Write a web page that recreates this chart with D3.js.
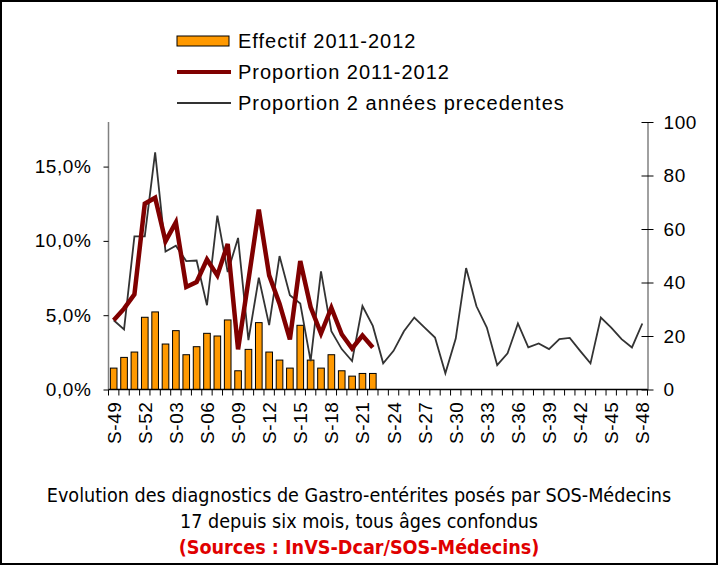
<!DOCTYPE html>
<html>
<head>
<meta charset="utf-8">
<script src="https://cdn.jsdelivr.net/npm/d3@7"></script>
<style>
  body { margin: 0; background: #fff; }
  svg { display: block; font-family: "Liberation Sans", Arial, sans-serif; }
  .tick-label { font-size: 19px; letter-spacing: 0.6px; fill: #000; }
  .legend text { font-size: 20px; letter-spacing: 1px; }
  .title { font-family: "Liberation Sans Narrow", "DejaVu Sans Condensed", sans-serif; font-stretch: condensed; font-size: 19.6px; text-anchor: middle; }
</style>
</head>
<body>
<svg id="chart"></svg>
<script>
'use strict';

// week labels, S-49 of 2011 to S-48 of 2012
const weeks = ['S-49', 'S-50', 'S-51', 'S-52']
  .concat(d3.range(1, 49).map(w => 'S-' + String(w).padStart(2, '0')));

// number of diagnoses 2011-2012 (right axis)
const effectif = [8, 12, 14, 27, 29, 17, 22, 13, 16, 21, 20, 26, 7,
  15, 25, 14, 11, 8, 24, 11, 8, 13, 7, 5, 6, 6];

// proportion 2011-2012 (left axis)
const proportion = [0.0466, 0.0544, 0.064, 0.125, 0.129, 0.0998, 0.1125,
  0.069, 0.0723, 0.0875, 0.0768, 0.098, 0.027, 0.0734, 0.121, 0.0768,
  0.0578, 0.0337, 0.0864, 0.0555, 0.0377, 0.055, 0.0372, 0.0276, 0.0363, 0.0283];

// proportion of the 2 previous years (left axis)
const proportionPrev = [0.0466, 0.0404, 0.103, 0.103, 0.1595, 0.0929, 0.0967,
  0.0864, 0.0868, 0.0567, 0.117, 0.079, 0.102, 0.0332, 0.0752, 0.0433,
  0.0898, 0.0634, 0.0578, 0.0191, 0.0795, 0.0392, 0.0272, 0.0191, 0.0562,
  0.0428, 0.0176, 0.026, 0.0392, 0.0484, 0.0417, 0.035, 0.0109, 0.0343,
  0.0817, 0.056, 0.0417, 0.0164, 0.0243, 0.0444, 0.0283, 0.031, 0.0272,
  0.0339, 0.0347, 0.026, 0.0176, 0.0484, 0.0417, 0.0339, 0.0283, 0.0444];

const leftTicks = [0, 0.05, 0.10, 0.15];
const rightTicks = [0, 20, 40, 60, 80, 100];

const legendItems = ['Effectif 2011-2012', 'Proportion 2011-2012', 'Proportion 2 années precedentes'];

const titleLines = [
  'Evolution des diagnostics de Gastro-entérites posés par SOS-Médecins',
  '17 depuis six mois, tous âges confondus',
  '(Sources : InVS-Dcar/SOS-Médecins)'
];

const width = 718;
const height = 565;
const plot = { left: 108.5, right: 647.5, top: 122, bottom: 389.5 };

const svg = d3.select('#chart')
  .attr('width', width)
  .attr('height', height);

svg.append('rect')
  .attr('x', 1).attr('y', 1)
  .attr('width', width - 2).attr('height', height - 2)
  .attr('fill', '#fff')
  .attr('stroke', '#000')
  .attr('stroke-width', 2);

const x = d3.scaleBand()
  .domain(weeks)
  .range([plot.left, plot.right])
  .padding(0);
const bw = x.bandwidth();
const cx = d => x(d) + bw / 2;

const yLeft = d3.scaleLinear().domain([0, 0.18]).range([plot.bottom, plot.top]);
const yRight = d3.scaleLinear().domain([0, 100]).range([plot.bottom, plot.top]);

// bars
svg.append('g')
  .selectAll('rect')
  .data(effectif)
  .join('rect')
  .attr('x', (d, i) => x(weeks[i]) + bw * 0.18)
  .attr('width', bw * 0.64)
  .attr('y', d => yRight(d))
  .attr('height', d => yRight(0) - yRight(d))
  .attr('fill', '#ff9900')
  .attr('stroke', '#000')
  .attr('stroke-width', 1);

// lines
const line = d3.line()
  .x((d, i) => cx(weeks[i]))
  .y(d => yLeft(d));

svg.append('path')
  .datum(proportionPrev)
  .attr('d', line)
  .attr('fill', 'none')
  .attr('stroke', '#333')
  .attr('stroke-width', 1.8)
  .attr('stroke-linejoin', 'miter');

svg.append('path')
  .datum(proportion)
  .attr('d', line)
  .attr('fill', 'none')
  .attr('stroke', '#800000')
  .attr('stroke-width', 4.5)
  .attr('stroke-linejoin', 'miter');

// left axis
const leftAxis = svg.append('g')
  .attr('transform', 'translate(' + plot.left + ',0)')
  .call(d3.axisLeft(yLeft)
    .tickValues(leftTicks)
    .tickSizeInner(5)
    .tickSizeOuter(0)
    .tickPadding(12)
    .tickFormat(d => d3.format('.1f')(d * 100).replace('.', ',') + '%'));
leftAxis.select('.domain').attr('stroke', '#808080').attr('stroke-width', 1.5)
  .attr('d', 'M0,' + plot.top + 'V' + plot.bottom);
leftAxis.selectAll('text').attr('class', 'tick-label');

// right axis, ticks crossing the line
const rightAxis = svg.append('g')
  .attr('transform', 'translate(' + plot.right + ',0)')
  .call(d3.axisRight(yRight)
    .tickValues(rightTicks)
    .tickSizeInner(6)
    .tickSizeOuter(0)
    .tickPadding(10));
rightAxis.selectAll('.tick line').attr('x1', -6);
rightAxis.select('.domain').attr('stroke', '#808080').attr('stroke-width', 1.5);
rightAxis.selectAll('text').attr('class', 'tick-label');

// category axis
const xAxis = svg.append('g');
xAxis.append('line')
  .attr('x1', plot.left).attr('x2', plot.right)
  .attr('y1', plot.bottom).attr('y2', plot.bottom)
  .attr('stroke', '#000').attr('stroke-width', 1.5);
xAxis.selectAll('line.cat')
  .data(weeks.concat(['end']))
  .join('line')
  .attr('class', 'cat')
  .attr('x1', (d, i) => plot.left + i * bw)
  .attr('x2', (d, i) => plot.left + i * bw)
  .attr('y1', plot.bottom)
  .attr('y2', plot.bottom + 6)
  .attr('stroke', '#000');
xAxis.selectAll('text')
  .data(weeks.filter((d, i) => i % 3 === 0))
  .join('text')
  .attr('class', 'tick-label')
  .attr('transform', d => 'translate(' + (cx(d) + 7) + ',' + (plot.bottom + 12) + ') rotate(-90)')
  .attr('text-anchor', 'end')
  .text(d => d);

// legend
const legend = svg.append('g').attr('class', 'legend');
const legendY = [41, 72, 103];
legend.append('rect')
  .attr('x', 177).attr('y', legendY[0] - 5)
  .attr('width', 52).attr('height', 10)
  .attr('fill', '#ff9900').attr('stroke', '#000');
legend.append('line')
  .attr('x1', 177).attr('x2', 231)
  .attr('y1', legendY[1]).attr('y2', legendY[1])
  .attr('stroke', '#800000').attr('stroke-width', 4);
legend.append('line')
  .attr('x1', 177).attr('x2', 231)
  .attr('y1', legendY[2]).attr('y2', legendY[2])
  .attr('stroke', '#333').attr('stroke-width', 1.8);
legend.selectAll('text')
  .data(legendItems)
  .join('text')
  .attr('x', 238)
  .attr('y', (d, i) => legendY[i])
  .attr('dy', '0.35em')
  .text(d => d);

// title
svg.selectAll('text.title')
  .data(titleLines)
  .join('text')
  .attr('class', 'title')
  .attr('x', width / 2)
  .attr('y', (d, i) => 502 + i * 26)
  .attr('fill', (d, i) => i === 2 ? '#e00000' : '#000')
  .attr('font-weight', (d, i) => i === 2 ? 'bold' : 'normal')
  .text(d => d);
</script>
</body>
</html>
